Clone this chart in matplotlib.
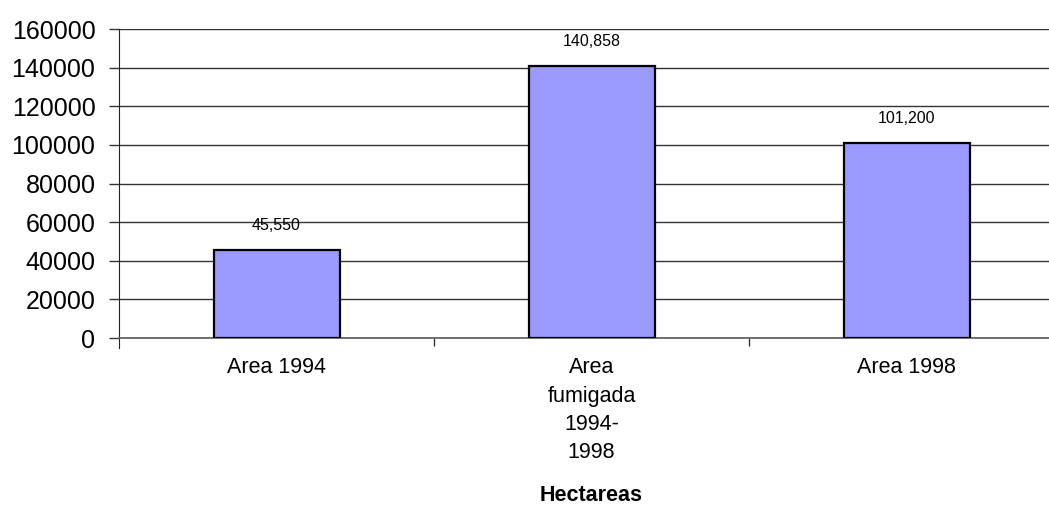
import numpy as np
import matplotlib.pyplot as plt
from matplotlib.ticker import FixedLocator

plt.rcParams['font.family'] = ['Liberation Sans', 'DejaVu Sans']

# datos
categorias = ["Area 1994", "Area\nfumigada\n1994-\n1998", "Area 1998"]
hectareas = [45550, 140858, 101200]
etiquetas = ["45,550", "140,858", "101,200"]
yticks = [0, 20000, 40000, 60000, 80000, 100000, 120000, 140000, 160000]

fig = plt.figure(figsize=(10.49, 5.11), dpi=100)
# el eje se sale un poco por la derecha
ax = fig.add_axes([119 / 1049, 1 - 338 / 511, 945 / 1049, 309 / 511])

x = np.arange(len(categorias))
ax.bar(x, hectareas, width=0.4, color="#9999FF", edgecolor="black", linewidth=1.6, zorder=3)

for xi, v, t in zip(x, hectareas, etiquetas):
    ax.annotate(t, (xi, v), xytext=(0, 12), textcoords="offset points",
                ha="center", va="bottom", fontsize=11.5)

ax.set_xlim(-0.5, 2.5)
ax.set_ylim(0, 160000)
ax.set_yticks(yticks)
ax.set_yticklabels([str(v) for v in yticks], fontsize=18)
ax.yaxis.grid(True, color="#333333", linewidth=1.0, zorder=0)
ax.set_axisbelow(True)

ax.set_xticks(x)
ax.set_xticklabels(categorias, fontsize=15.5, linespacing=1.45)
ax.tick_params(axis="x", which="major", length=0, pad=14)
ax.xaxis.set_minor_locator(FixedLocator([0.5, 1.5]))
ax.tick_params(axis="x", which="minor", length=6, width=1, color="#333333", direction="out")
ax.tick_params(axis="y", length=7, width=1, color="#333333", direction="out", pad=10)

ax.set_xlabel("Hectareas", fontsize=15.5, fontweight="bold", labelpad=16)

for s in ["top", "right"]:
    ax.spines[s].set_visible(False)
ax.spines["left"].set_color("#222222")
ax.spines["left"].set_bounds(-5000, 160000)
ax.spines["bottom"].set_color("#666666")
ax.spines["bottom"].set_linewidth(1.3)

fig.savefig("out.png", dpi=100)
